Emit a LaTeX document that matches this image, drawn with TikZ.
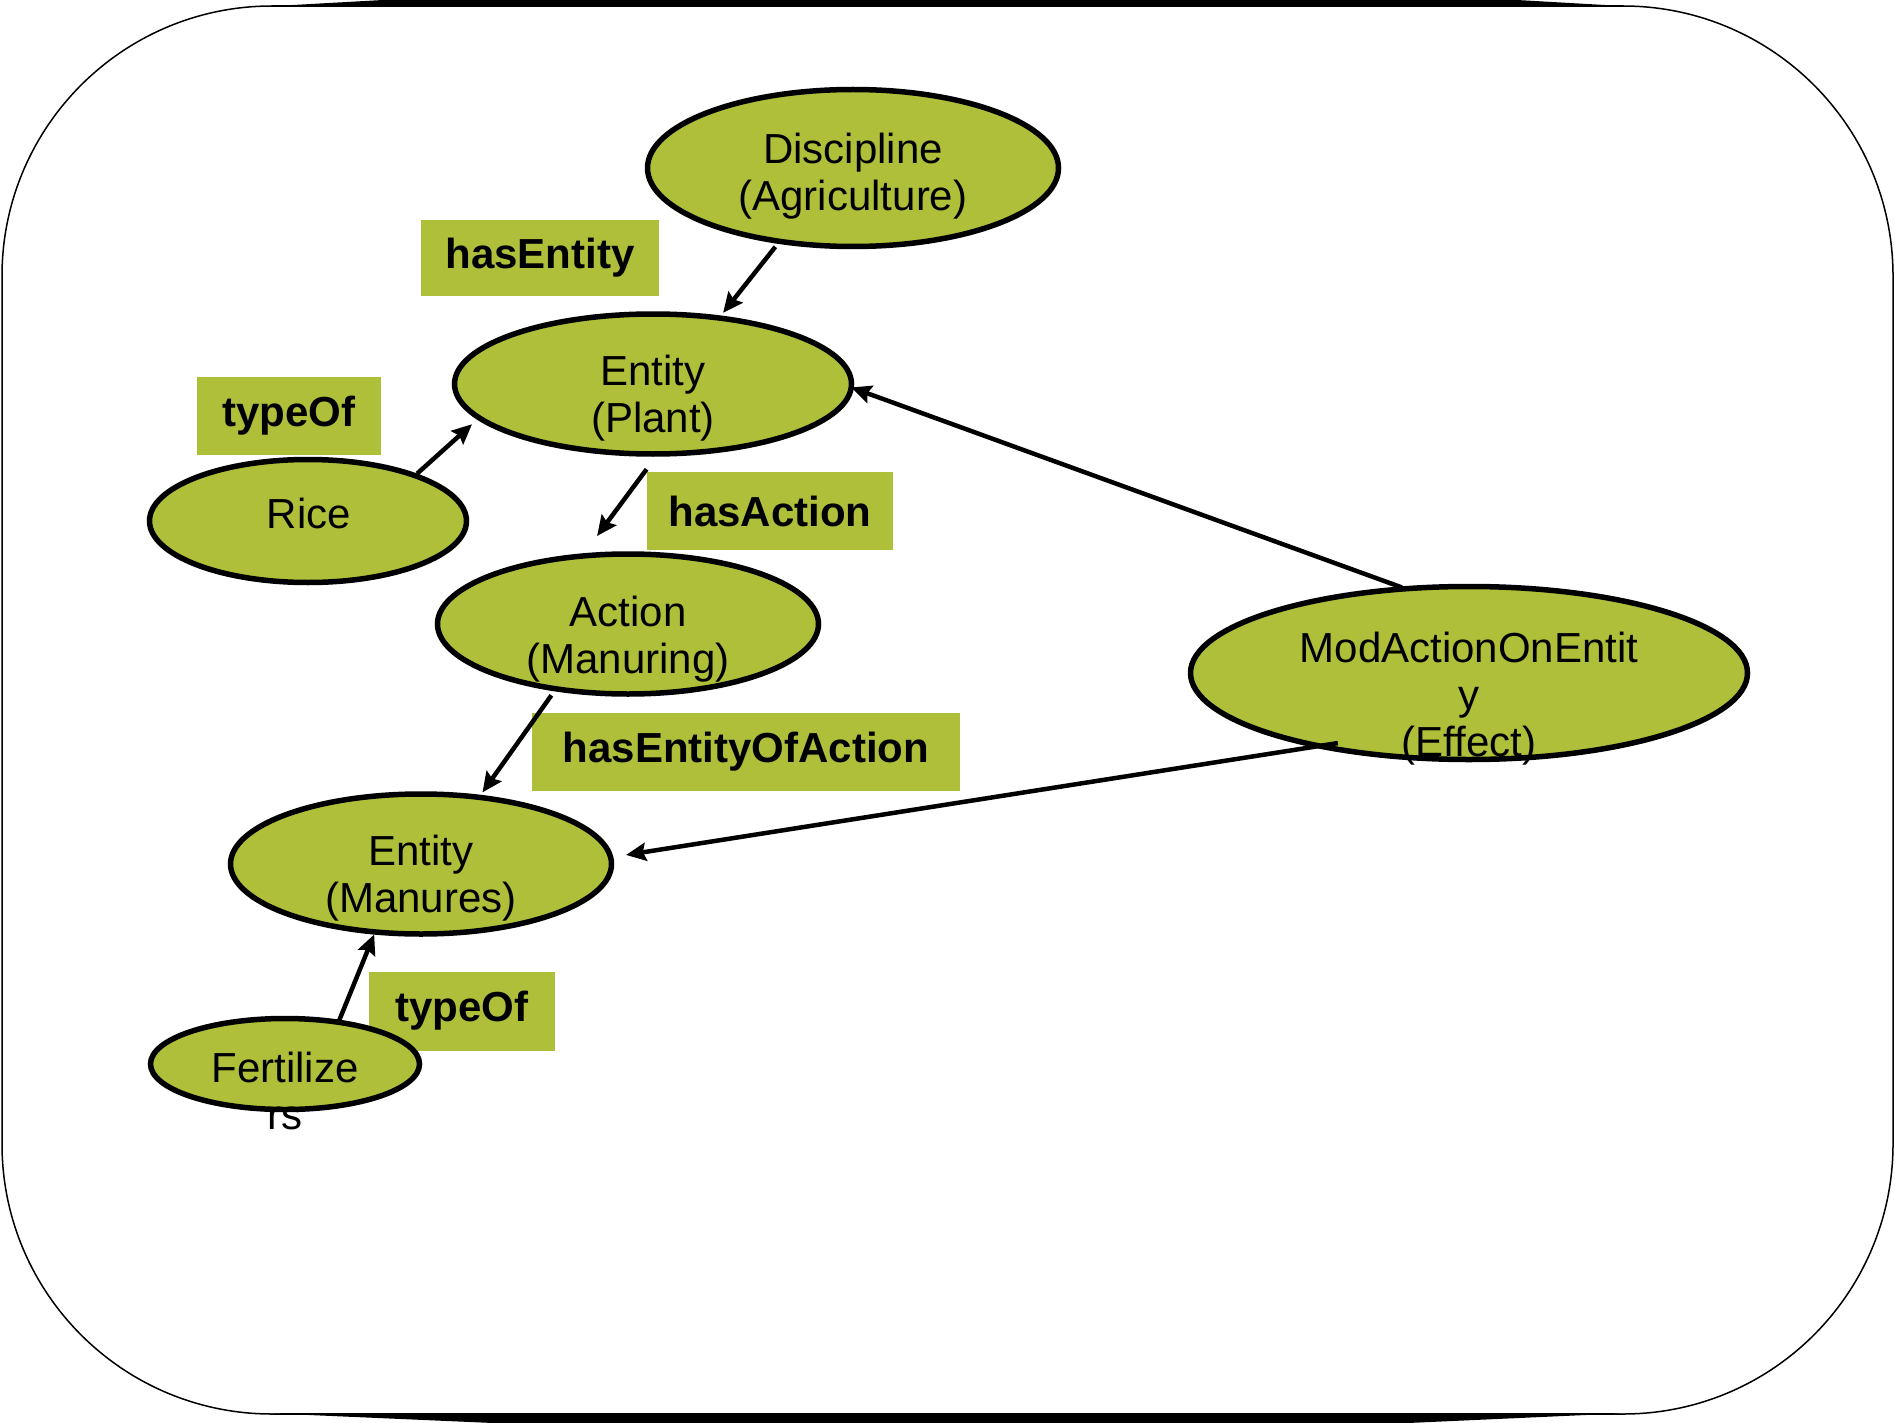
\documentclass[tikz,border=0pt]{standalone}
\usepackage{fontspec}
\setmainfont{Liberation Sans}
\usetikzlibrary{shapes.geometric,arrows.meta}
\definecolor{olivefill}{RGB}{175,191,58}
\tikzset{
  ent/.style={ellipse, draw, line width=5.5pt, fill=olivefill, inner sep=0pt, outer sep=0pt},
  lbl/.style={rectangle, fill=olivefill, inner sep=0pt, font=\fontsize{42pt}{47pt}\selectfont\bfseries},
  txt/.style={align=center, inner sep=0pt, font=\fontsize{42pt}{47pt}\selectfont},
  arr/.style={line width=4.5pt, -{Stealth[length=20pt,width=18pt,inset=3pt]}}
}
\begin{document}
\begin{tikzpicture}[x=1pt,y=-1pt]
\useasboundingbox (0,0) rectangle (1895,1423);
% outer frame with heavy top and bottom strips
\draw[line width=1.5pt, rounded corners=270pt] (2,6) rectangle (1893,1414);
\fill (257,7) -- (383,0) -- (1517,0) -- (1640,7) -- cycle;
\fill (263,1413) -- (493,1423) -- (1408,1423) -- (1630,1413) -- cycle;

% relation labels
\node[lbl, minimum width=238pt, minimum height=76pt] (lhasentity) at (540,258) {hasEntity};
\node[lbl, minimum width=184pt, minimum height=78pt] (ltypeofa) at (289,416) {typeOf};
\node[lbl, minimum width=246pt, minimum height=78pt] (lhasaction) at (770,511) {hasAction};
\node[lbl, minimum width=428pt, minimum height=78pt] (lhasentityofaction) at (746,752) {hasEntityOfAction};
\node[lbl, minimum width=186pt, minimum height=79pt] (ltypeofb) at (462,1011) {typeOf};

% concept ellipses
\node[ent, minimum width=411pt, minimum height=157pt] (disc) at (853,168) {};
\node[ent, minimum width=397pt, minimum height=140pt] (plant) at (653,384) {};
\node[ent, minimum width=317pt, minimum height=123pt] (rice) at (308,521) {};
\node[ent, minimum width=381pt, minimum height=140pt] (act) at (628,624) {};
\node[ent, minimum width=557pt, minimum height=173pt] (mod) at (1469,673) {};
\node[ent, minimum width=381pt, minimum height=140pt] (man) at (421,864) {};
\node[ent, minimum width=269pt, minimum height=91pt] (fert) at (285,1064) {};

% relations
\draw[arr, shorten <=7pt, shorten >=6.6pt] (disc.225) -- (plant.45);
\draw[arr, shorten <=3pt, shorten >=9.6pt] (rice.23) -- (plant.191);
\draw[arr, shorten <=19pt, shorten >=25pt] (plant.274) -- (act.124);
\draw[arr, shorten <=8pt, shorten >=6pt] (act.222) -- (man.49);
\draw[arr, shorten <=4pt] (mod.127) -- (plant.359);
\draw[arr, shorten <=-18.6pt, shorten >=15.6pt] (mod.206) -- (man.2);
\draw[arr, shorten >=2.6pt] (fert.38) -- (man.236);

% concept texts
\node[txt] (tdisc) at (853,176) {Discipline\\(Agriculture)};
\node[txt] (tplant) at (653,398) {Entity\\(Plant)};
\node[txt] (trice) at (309,513) {Rice};
\node[txt] (tact) at (628,639) {Action\\(Manuring)};
\node[txt] (tmod) at (1469,699) {ModActionOnEntit\\y\\(Effect)};
\node[txt] (tman) at (421,878) {Entity\\(Manures)};
\node[txt] (tfert) at (285,1091) {Fertilize\\rs};
\end{tikzpicture}
\end{document}
